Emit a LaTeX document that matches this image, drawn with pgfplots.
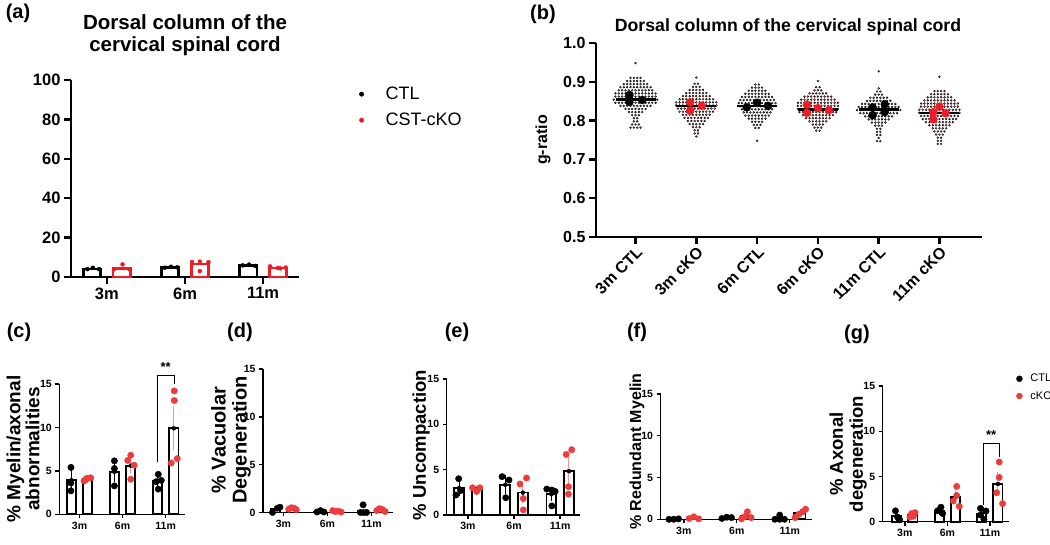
\documentclass[border=0pt]{standalone}
\usepackage{pgfplots}
\pgfplotsset{compat=1.18}
\usepackage{pgfplotstable}
\usepackage{fontspec}
\setmainfont{Liberation Sans}
\newcommand{\fs}[1]{\fontsize{#1}{#1}\selectfont}
\definecolor{cred}{RGB}{238,28,36}
\definecolor{dred}{RGB}{236,60,60}
\definecolor{epink}{RGB}{243,150,150}
\definecolor{sgrey}{RGB}{150,150,150}
\definecolor{spink}{RGB}{245,135,135}

% beeswarm tables: s = horizontal slot in the swarm, v = g-ratio x 1000
\pgfplotstableread[row sep=\\]{
s v\\
0 948\\
-1.5 910\\ -0.5 910\\ 0.5 910\\ 1.5 910\\
-2.5 902\\ -1.5 902\\ -0.5 902\\ 0.5 902\\ 1.5 902\\ 2.5 902\\
-3.5 894\\ -2.5 894\\ -1.5 894\\ -0.5 894\\ 0.5 894\\ 1.5 894\\ 2.5 894\\ 3.5 894\\
-4.5 886\\ -3.5 886\\ -2.5 886\\ -1.5 886\\ -0.5 886\\ 0.5 886\\ 1.5 886\\ 2.5 886\\ 3.5 886\\ 4.5 886\\
-5 878\\ -4 878\\ -3 878\\ -2 878\\ -1 878\\ 0 878\\ 1 878\\ 2 878\\ 3 878\\ 4 878\\ 5 878\\
-6 870\\ -5 870\\ -4 870\\ -3 870\\ -2 870\\ -1 870\\ 0 870\\ 1 870\\ 2 870\\ 3 870\\ 4 870\\ 5 870\\ 6 870\\
-6 862\\ -5 862\\ -4 862\\ -3 862\\ -2 862\\ -1 862\\ 0 862\\ 1 862\\ 2 862\\ 3 862\\ 4 862\\ 5 862\\ 6 862\\
-6.5 854\\ -5.5 854\\ -4.5 854\\ -3.5 854\\ -2.5 854\\ -1.5 854\\ -0.5 854\\ 0.5 854\\ 1.5 854\\ 2.5 854\\ 3.5 854\\ 4.5 854\\ 5.5 854\\ 6.5 854\\
-6 846\\ -5 846\\ -4 846\\ -3 846\\ -2 846\\ -1 846\\ 0 846\\ 1 846\\ 2 846\\ 3 846\\ 4 846\\ 5 846\\ 6 846\\
-4.5 838\\ -3.5 838\\ -2.5 838\\ -1.5 838\\ -0.5 838\\ 0.5 838\\ 1.5 838\\ 2.5 838\\ 3.5 838\\ 4.5 838\\
-3 830\\ -2 830\\ -1 830\\ 0 830\\ 1 830\\ 2 830\\ 3 830\\
-2 822\\ -1 822\\ 0 822\\ 1 822\\ 2 822\\
-1 814\\ 0 814\\ 1 814\\
-0.5 806\\ 0.5 806\\
-0.5 798\\ 0.5 798\\
-1 790\\ 0 790\\ 1 790\\
-1.5 782\\ -0.5 782\\ 0.5 782\\ 1.5 782\\
}\swA

\pgfplotstableread[row sep=\\]{
s v\\
0 911\\
-0.5 895\\ 0.5 895\\
-1 887\\ 0 887\\ 1 887\\
-2 879\\ -1 879\\ 0 879\\ 1 879\\ 2 879\\
-3 871\\ -2 871\\ -1 871\\ 0 871\\ 1 871\\ 2 871\\ 3 871\\
-4 863\\ -3 863\\ -2 863\\ -1 863\\ 0 863\\ 1 863\\ 2 863\\ 3 863\\ 4 863\\
-5 855\\ -4 855\\ -3 855\\ -2 855\\ -1 855\\ 0 855\\ 1 855\\ 2 855\\ 3 855\\ 4 855\\ 5 855\\
-6 847\\ -5 847\\ -4 847\\ -3 847\\ -2 847\\ -1 847\\ 0 847\\ 1 847\\ 2 847\\ 3 847\\ 4 847\\ 5 847\\ 6 847\\
-6 839\\ -5 839\\ -4 839\\ -3 839\\ -2 839\\ -1 839\\ 0 839\\ 1 839\\ 2 839\\ 3 839\\ 4 839\\ 5 839\\ 6 839\\
-5.5 831\\ -4.5 831\\ -3.5 831\\ -2.5 831\\ -1.5 831\\ -0.5 831\\ 0.5 831\\ 1.5 831\\ 2.5 831\\ 3.5 831\\ 4.5 831\\ 5.5 831\\
-5 823\\ -4 823\\ -3 823\\ -2 823\\ -1 823\\ 0 823\\ 1 823\\ 2 823\\ 3 823\\ 4 823\\ 5 823\\
-4 815\\ -3 815\\ -2 815\\ -1 815\\ 0 815\\ 1 815\\ 2 815\\ 3 815\\ 4 815\\
-3.5 807\\ -2.5 807\\ -1.5 807\\ -0.5 807\\ 0.5 807\\ 1.5 807\\ 2.5 807\\ 3.5 807\\
-2.5 799\\ -1.5 799\\ -0.5 799\\ 0.5 799\\ 1.5 799\\ 2.5 799\\
-2 791\\ -1 791\\ 0 791\\ 1 791\\ 2 791\\
-1 783\\ 0 783\\ 1 783\\
-0.5 775\\ 0.5 775\\
-0.5 767\\ 0.5 767\\
0 759\\
}\swB

\pgfplotstableread[row sep=\\]{
s v\\
-0.5 893\\ 0.5 893\\
-1.5 885\\ -0.5 885\\ 0.5 885\\ 1.5 885\\
-2.5 877\\ -1.5 877\\ -0.5 877\\ 0.5 877\\ 1.5 877\\ 2.5 877\\
-3.5 869\\ -2.5 869\\ -1.5 869\\ -0.5 869\\ 0.5 869\\ 1.5 869\\ 2.5 869\\ 3.5 869\\
-4.5 861\\ -3.5 861\\ -2.5 861\\ -1.5 861\\ -0.5 861\\ 0.5 861\\ 1.5 861\\ 2.5 861\\ 3.5 861\\ 4.5 861\\
-5 853\\ -4 853\\ -3 853\\ -2 853\\ -1 853\\ 0 853\\ 1 853\\ 2 853\\ 3 853\\ 4 853\\ 5 853\\
-5.5 845\\ -4.5 845\\ -3.5 845\\ -2.5 845\\ -1.5 845\\ -0.5 845\\ 0.5 845\\ 1.5 845\\ 2.5 845\\ 3.5 845\\ 4.5 845\\ 5.5 845\\
-5 837\\ -4 837\\ -3 837\\ -2 837\\ -1 837\\ 0 837\\ 1 837\\ 2 837\\ 3 837\\ 4 837\\ 5 837\\
-4.5 829\\ -3.5 829\\ -2.5 829\\ -1.5 829\\ -0.5 829\\ 0.5 829\\ 1.5 829\\ 2.5 829\\ 3.5 829\\ 4.5 829\\
-4 821\\ -3 821\\ -2 821\\ -1 821\\ 0 821\\ 1 821\\ 2 821\\ 3 821\\ 4 821\\
-3.5 813\\ -2.5 813\\ -1.5 813\\ -0.5 813\\ 0.5 813\\ 1.5 813\\ 2.5 813\\ 3.5 813\\
-2.5 805\\ -1.5 805\\ -0.5 805\\ 0.5 805\\ 1.5 805\\ 2.5 805\\
-1.5 797\\ -0.5 797\\ 0.5 797\\ 1.5 797\\
-1 789\\ 0 789\\ 1 789\\
-0.5 781\\ 0.5 781\\
0 748\\
}\swC

\pgfplotstableread[row sep=\\]{
s v\\
0 902\\
-0.5 886\\ 0.5 886\\
-1 878\\ 0 878\\ 1 878\\
-2.5 870\\ -1.5 870\\ -0.5 870\\ 0.5 870\\ 1.5 870\\ 2.5 870\\
-4 862\\ -3 862\\ -2 862\\ -1 862\\ 0 862\\ 1 862\\ 2 862\\ 3 862\\ 4 862\\
-5 854\\ -4 854\\ -3 854\\ -2 854\\ -1 854\\ 0 854\\ 1 854\\ 2 854\\ 3 854\\ 4 854\\ 5 854\\
-6 846\\ -5 846\\ -4 846\\ -3 846\\ -2 846\\ -1 846\\ 0 846\\ 1 846\\ 2 846\\ 3 846\\ 4 846\\ 5 846\\ 6 846\\
-6 838\\ -5 838\\ -4 838\\ -3 838\\ -2 838\\ -1 838\\ 0 838\\ 1 838\\ 2 838\\ 3 838\\ 4 838\\ 5 838\\ 6 838\\
-6 830\\ -5 830\\ -4 830\\ -3 830\\ -2 830\\ -1 830\\ 0 830\\ 1 830\\ 2 830\\ 3 830\\ 4 830\\ 5 830\\ 6 830\\
-5.5 822\\ -4.5 822\\ -3.5 822\\ -2.5 822\\ -1.5 822\\ -0.5 822\\ 0.5 822\\ 1.5 822\\ 2.5 822\\ 3.5 822\\ 4.5 822\\ 5.5 822\\
-4.5 814\\ -3.5 814\\ -2.5 814\\ -1.5 814\\ -0.5 814\\ 0.5 814\\ 1.5 814\\ 2.5 814\\ 3.5 814\\ 4.5 814\\
-3.5 806\\ -2.5 806\\ -1.5 806\\ -0.5 806\\ 0.5 806\\ 1.5 806\\ 2.5 806\\ 3.5 806\\
-2.5 798\\ -1.5 798\\ -0.5 798\\ 0.5 798\\ 1.5 798\\ 2.5 798\\
-1.5 790\\ -0.5 790\\ 0.5 790\\ 1.5 790\\
-1 782\\ 0 782\\ 1 782\\
-0.5 774\\ 0.5 774\\
}\swD

\pgfplotstableread[row sep=\\]{
s v\\
0 927\\
0 883\\
-0.5 875\\ 0.5 875\\
-1 867\\ 0 867\\ 1 867\\
-2.5 859\\ -1.5 859\\ -0.5 859\\ 0.5 859\\ 1.5 859\\ 2.5 859\\
-3.5 851\\ -2.5 851\\ -1.5 851\\ -0.5 851\\ 0.5 851\\ 1.5 851\\ 2.5 851\\ 3.5 851\\
-5 843\\ -4 843\\ -3 843\\ -2 843\\ -1 843\\ 0 843\\ 1 843\\ 2 843\\ 3 843\\ 4 843\\ 5 843\\
-6 835\\ -5 835\\ -4 835\\ -3 835\\ -2 835\\ -1 835\\ 0 835\\ 1 835\\ 2 835\\ 3 835\\ 4 835\\ 5 835\\ 6 835\\
-6.5 827\\ -5.5 827\\ -4.5 827\\ -3.5 827\\ -2.5 827\\ -1.5 827\\ -0.5 827\\ 0.5 827\\ 1.5 827\\ 2.5 827\\ 3.5 827\\ 4.5 827\\ 5.5 827\\ 6.5 827\\
-5.5 819\\ -4.5 819\\ -3.5 819\\ -2.5 819\\ -1.5 819\\ -0.5 819\\ 0.5 819\\ 1.5 819\\ 2.5 819\\ 3.5 819\\ 4.5 819\\ 5.5 819\\
-4 811\\ -3 811\\ -2 811\\ -1 811\\ 0 811\\ 1 811\\ 2 811\\ 3 811\\ 4 811\\
-3 803\\ -2 803\\ -1 803\\ 0 803\\ 1 803\\ 2 803\\ 3 803\\
-2 795\\ -1 795\\ 0 795\\ 1 795\\ 2 795\\
-1 787\\ 0 787\\ 1 787\\
-0.5 779\\ 0.5 779\\
-0.5 771\\ 0.5 771\\
-0.5 763\\ 0.5 763\\
0 755\\
-0.5 747\\ 0.5 747\\
}\swE

\pgfplotstableread[row sep=\\]{
s v\\
0 913\\
-1.5 876\\ -0.5 876\\ 0.5 876\\ 1.5 876\\
-2.5 868\\ -1.5 868\\ -0.5 868\\ 0.5 868\\ 1.5 868\\ 2.5 868\\
-3.5 860\\ -2.5 860\\ -1.5 860\\ -0.5 860\\ 0.5 860\\ 1.5 860\\ 2.5 860\\ 3.5 860\\
-4.5 852\\ -3.5 852\\ -2.5 852\\ -1.5 852\\ -0.5 852\\ 0.5 852\\ 1.5 852\\ 2.5 852\\ 3.5 852\\ 4.5 852\\
-5.5 844\\ -4.5 844\\ -3.5 844\\ -2.5 844\\ -1.5 844\\ -0.5 844\\ 0.5 844\\ 1.5 844\\ 2.5 844\\ 3.5 844\\ 4.5 844\\ 5.5 844\\
-5.5 836\\ -4.5 836\\ -3.5 836\\ -2.5 836\\ -1.5 836\\ -0.5 836\\ 0.5 836\\ 1.5 836\\ 2.5 836\\ 3.5 836\\ 4.5 836\\ 5.5 836\\
-6 828\\ -5 828\\ -4 828\\ -3 828\\ -2 828\\ -1 828\\ 0 828\\ 1 828\\ 2 828\\ 3 828\\ 4 828\\ 5 828\\ 6 828\\
-6 820\\ -5 820\\ -4 820\\ -3 820\\ -2 820\\ -1 820\\ 0 820\\ 1 820\\ 2 820\\ 3 820\\ 4 820\\ 5 820\\ 6 820\\
-5.5 812\\ -4.5 812\\ -3.5 812\\ -2.5 812\\ -1.5 812\\ -0.5 812\\ 0.5 812\\ 1.5 812\\ 2.5 812\\ 3.5 812\\ 4.5 812\\ 5.5 812\\
-5 804\\ -4 804\\ -3 804\\ -2 804\\ -1 804\\ 0 804\\ 1 804\\ 2 804\\ 3 804\\ 4 804\\ 5 804\\
-4 796\\ -3 796\\ -2 796\\ -1 796\\ 0 796\\ 1 796\\ 2 796\\ 3 796\\ 4 796\\
-3 788\\ -2 788\\ -1 788\\ 0 788\\ 1 788\\ 2 788\\ 3 788\\
-2 780\\ -1 780\\ 0 780\\ 1 780\\ 2 780\\
-1.5 772\\ -0.5 772\\ 0.5 772\\ 1.5 772\\
-1 764\\ 0 764\\ 1 764\\
-0.5 756\\ 0.5 756\\
-0.5 748\\ 0.5 748\\
-0.5 740\\ 0.5 740\\
}\swF

\pgfplotsset{
  bot/.style={scale only axis, axis lines=left, axis line style={-,line width=1.4pt},
    tick style={line width=1.4pt,black}, tick align=outside, major tick length=4pt,
    ymin=0, ymax=15, ytick={0,5,10,15}, xtick={0,1,2}, xticklabels={3m,6m,11m},
    tick label style={font=\fs{10.5}\bfseries}, /pgf/number format/assume math mode=true,
    clip=false, enlargelimits=false},
  barb/.style={ybar, bar width=0.215, draw=black, fill=white, line width=1.8pt},
  errk/.style={only marks, mark=none, error bars/.cd, y dir=both, y explicit, error bar style={line width=1pt,draw=black}, error mark options={mark size=3pt,line width=1pt,draw=black}},
  errr/.style={only marks, mark=none, error bars/.cd, y dir=both, y explicit, error bar style={line width=1pt,draw=epink}, error mark options={mark size=3pt,line width=1pt,draw=epink}},
  dotk/.style={only marks, mark=*, mark size=3.2pt, mark options={draw=black,fill=black}},
  dotr/.style={only marks, mark=*, mark size=3.2pt, mark options={draw=dred,fill=dred}},
}

\begin{document}
\begin{tikzpicture}[x=1pt,y=1pt]
\path[use as bounding box, fill=white] (0,0) rectangle (1050,545);

% ---------------- (a)
\begin{axis}[at={(71pt,268pt)}, anchor=south west, width=228pt, height=197pt, scale only axis,
  axis lines=left, axis line style={-,line width=2.5pt}, tick style={line width=2.5pt,black},
  tick align=outside, major tick length=7pt, xmin=-0.46, xmax=2.46, ymin=0, ymax=100,
  ytick={0,20,40,60,80,100}, xtick={0,1,2}, xticklabels={3m,6m,11m},
  tick label style={font=\fs{16.5}\bfseries}, /pgf/number format/assume math mode=true,
  clip=false, enlargelimits=false,
  legend style={at={(1.25,0.975)}, anchor=north west, draw=none, fill=none, font=\fs{18},
    row sep=12pt, column sep=0pt, nodes={inner sep=0pt}},
  legend cell align=left,
  legend image code/.code={\fill[#1] (0pt,0pt) circle (2.2pt); \path[draw=none,fill=none] (-2.2pt,0pt) -- (24pt,0pt);}]
\addlegendimage{black}\addlegendentry{CTL}
\addlegendimage{cred}\addlegendentry{CST-cKO}
\addplot[ybar, bar width=0.22, bar shift=-0.19, draw=black, fill=white, line width=2.6pt] coordinates {(0,4.0)(1,4.7)(2,5.8)};
\addplot[ybar, bar width=0.22, bar shift=0.19, draw=cred, fill=white, line width=2.6pt] coordinates {(0,4.4)(1,6.6)(2,4.6)};
\addplot[only marks, mark=*, mark size=2pt, black] coordinates {(-0.25,4.0)(-0.18,4.7)(-0.10,4.0)(0.74,4.7)(0.82,5.2)(0.9,4.9)(1.74,5.9)(1.82,6.3)(1.9,5.6)};
\addplot[only marks, mark=*, mark size=2pt, cred] coordinates {(0.09,3.9)(0.2,6.4)(0.29,3.9)(1.09,7.6)(1.19,7.8)(1.3,7.5)(1.19,3.0)(2.09,5.4)(2.19,4.6)(2.29,4.8)(2.22,4.4)};
\end{axis}
\node[font=\fs{20}\bfseries] at (18,532) {(a)};
\node[font=\fontsize{20.5}{22}\selectfont\bfseries, align=center] at (185,510) {Dorsal column of the\\cervical spinal cord};

% ---------------- (b)
\begin{axis}[at={(596pt,308pt)}, anchor=south west, width=386pt, height=194pt, scale only axis,
  axis lines=left, axis line style={-,line width=2.5pt}, tick style={line width=2.5pt,black},
  tick align=outside, major tick length=7pt, xmin=-0.65, xmax=5.7, ymin=0.5, ymax=1.0,
  ytick={0.5,0.6,0.7,0.8,0.9,1.0}, xtick={0,1,2,3,4,5},
  xticklabels={3m CTL,3m cKO,6m CTL,6m cKO,11m CTL,11m cKO},
  yticklabel style={/pgf/number format/.cd, fixed, fixed zerofill, precision=1},
  tick label style={font=\fs{16}\bfseries}, /pgf/number format/assume math mode=true,
  xticklabel style={rotate=45, anchor=north east, inner sep=1pt},
  clip=false, enlargelimits=false]
\addplot[only marks, mark=*, mark size=0.95pt, mark options={draw=none,fill=sgrey}] table[x expr=\thisrow{s}*0.055, y expr=\thisrow{v}/1000] {\swA};
\addplot[only marks, mark=*, mark size=0.95pt, mark options={draw=none,fill=spink}] table[x expr=\thisrow{s}*0.055+1, y expr=\thisrow{v}/1000] {\swB};
\addplot[only marks, mark=*, mark size=0.95pt, mark options={draw=none,fill=sgrey}] table[x expr=\thisrow{s}*0.055+2, y expr=\thisrow{v}/1000] {\swC};
\addplot[only marks, mark=*, mark size=0.95pt, mark options={draw=none,fill=spink}] table[x expr=\thisrow{s}*0.055+3, y expr=\thisrow{v}/1000] {\swD};
\addplot[only marks, mark=*, mark size=0.95pt, mark options={draw=none,fill=sgrey}] table[x expr=\thisrow{s}*0.055+4, y expr=\thisrow{v}/1000] {\swE};
\addplot[only marks, mark=*, mark size=0.95pt, mark options={draw=none,fill=spink}] table[x expr=\thisrow{s}*0.055+5, y expr=\thisrow{v}/1000] {\swF};
\addplot[only marks, mark=-, mark size=20pt, mark options={line width=2.5pt, black}] coordinates {(0,0.855)(1,0.837)(2,0.838)(3,0.829)(4,0.828)(5,0.819)};
\addplot[only marks, mark=*, mark size=4pt, black] coordinates {(-0.1,0.866)(-0.1,0.848)(0.11,0.853)(1.83,0.834)(2.0,0.846)(2.18,0.838)(3.9,0.834)(3.9,0.814)(4.1,0.842)(4.1,0.822)};
\addplot[only marks, mark=*, mark size=4pt, cred] coordinates {(0.9,0.847)(0.9,0.826)(1.09,0.838)(2.82,0.841)(2.82,0.820)(3.0,0.832)(3.18,0.827)(4.9,0.822)(4.9,0.803)(5.0,0.836)(5.1,0.819)};
\end{axis}
\node[font=\fs{20}\bfseries] at (543,531) {(b)};
\node[font=\fs{17.7}\bfseries] at (788,518) {Dorsal column of the cervical spinal cord};
\node[font=\fs{16}\bfseries, rotate=90] at (543,405) {g-ratio};

% ---------------- (c)
\begin{axis}[bot, at={(59.3pt,30.7pt)}, anchor=south west, width=125.7pt, height=130.3pt, xmin=-0.47, xmax=2.45]
\addplot[barb, bar shift=-0.19] coordinates {(0,3.92)(1,4.88)(2,3.8)};
\addplot[barb, bar shift=0.19] coordinates {(0,4.1)(1,5.6)(2,9.9)};
\addplot[errk] coordinates {(-0.19,3.92) +- (0,0.78) (0.81,4.88) +- (0,0.85) (1.81,3.8) +- (0,0.35)};
\addplot[errr] coordinates {(0.19,4.1) +- (0,0.1) (1.19,5.6) +- (0,0.6) (2.19,9.9) +- (0,2.2)};
\addplot[dotk] coordinates {(-0.2,5.4)(-0.2,3.6)(-0.2,2.7)(0.81,6.15)(0.81,5.27)(0.81,3.27)(1.83,4.6)(1.78,3.75)(1.9,3.9)(1.83,2.9)};
\addplot[dotr] coordinates {(0.105,3.85)(0.14,4.0)(0.18,4.15)(0.26,4.2)(1.19,6.8)(1.12,6.2)(1.27,5.65)(1.19,4.04)(2.2,14.2)(2.2,13.1)(2.13,5.9)(2.27,6.4)};
\draw[line width=1.1pt] (axis cs:1.81,6) |- (axis cs:2.2,16) -- (axis cs:2.2,15);
\node[font=\fs{13}\bfseries] at (axis cs:2,17.0) {**};
\end{axis}
\node[font=\fs{20}\bfseries] at (19,213) {(c)};
\node[font=\fontsize{19}{19}\selectfont\bfseries, rotate=90, align=center] at (23,96) {\% Myelin/axonal\\abnormalities};

% ---------------- (d)
\begin{axis}[bot, at={(263pt,32.5pt)}, anchor=south west, width=130pt, height=143.5pt, xmin=-0.466, xmax=2.49]
\addplot[barb, bar shift=-0.19] coordinates {(0,0.35)(1,0.1)(2,0.2)};
\addplot[barb, bar shift=0.19] coordinates {(0,0.4)(1,0.12)(2,0.25)};
\addplot[dotk] coordinates {(-0.25,0)(-0.14,0.45)(-0.08,0.55)(0.76,0.05)(0.84,0.2)(0.92,0.05)(1.75,0)(1.81,0.8)(1.82,0)(1.89,0)};
\addplot[dotr] coordinates {(0.12,0.35)(0.18,0.5)(0.24,0.45)(0.29,0.3)(1.12,0.2)(1.18,0.1)(1.24,0.15)(1.31,0.05)(2.12,0.2)(2.18,0.4)(2.25,0.3)(2.31,0.1)};
\end{axis}
\node[font=\fs{20}\bfseries] at (240,213) {(d)};
\node[font=\fontsize{20}{21}\selectfont\bfseries, rotate=90, align=center] at (231,105) {\% Vacuolar\\Degeneration};

% ---------------- (e)
\begin{axis}[bot, at={(446.7pt,30pt)}, anchor=south west, width=133.3pt, height=136pt, xmin=-0.46, xmax=2.43]
\addplot[barb, bar shift=-0.19] coordinates {(0,2.97)(1,3.33)(2,2.3)};
\addplot[barb, bar shift=0.19] coordinates {(0,2.87)(1,2.47)(2,4.83)};
\addplot[errk] coordinates {(-0.19,2.97) +- (0,0.55) (0.81,3.33) +- (0,0.7) (1.81,2.3) +- (0,0.4)};
\addplot[errr] coordinates {(0.19,2.87) +- (0,0.13) (1.19,2.47) +- (0,0.8) (2.19,4.83) +- (0,1.25)};
\addplot[dotk] coordinates {(-0.2,4.0)(-0.26,2.2)(-0.16,2.7)(0.74,4.23)(0.89,3.86)(0.82,1.9)(1.71,2.86)(1.82,2.75)(1.89,2.6)(1.82,1.0)};
\addplot[dotr] coordinates {(0.1,3.0)(0.19,2.6)(0.26,3.0)(1.13,3.42)(1.27,4.08)(1.2,1.82)(1.2,0.56)(2.13,6.68)(2.25,7.2)(2.18,3.12)(2.18,2.3)};
\end{axis}
\node[font=\fs{20}\bfseries] at (457,213) {(e)};
\node[font=\fs{18.5}\bfseries, rotate=90] at (421,100) {\% Uncompaction};

% ---------------- (f)
\begin{axis}[bot, at={(660.5pt,25.7pt)}, anchor=south west, width=151.5pt, height=125.3pt, xmin=-0.44, xmax=2.42]
\addplot[barb, bar shift=-0.19] coordinates {(0,0.03)(1,0.18)(2,0.12)};
\addplot[barb, bar shift=0.19] coordinates {(0,0.15)(1,0.36)(2,0.72)};
\addplot[dotk] coordinates {(-0.28,0)(-0.19,0)(-0.1,0.05)(0.72,0.1)(0.81,0.25)(0.9,0.2)(1.72,0)(1.81,0.5)(1.81,0)(1.9,0)};
\addplot[dotr] coordinates {(0.1,0.1)(0.19,0.3)(0.28,0.05)(1.09,0.05)(1.15,0.3)(1.2,0.9)(1.27,0.2)(2.1,0.2)(2.17,0.6)(2.24,0.9)(2.3,1.2)};
\end{axis}
\node[font=\fs{20}\bfseries] at (637,213) {(f)};
\node[font=\fs{16}\bfseries, rotate=90] at (637,93.5) {\% Redundant Myelin};

% ---------------- (g)
\begin{axis}[bot, at={(882.7pt,23.3pt)}, anchor=south west, width=126.3pt, height=135.7pt, xmin=-0.52, xmax=2.45,
  legend style={at={(1.032,1.103)}, anchor=north west, draw=none, fill=none, font=\fs{11},
    row sep=8pt, column sep=0pt, nodes={inner sep=0pt}},
  legend cell align=left,
  legend image code/.code={\fill[#1] (0pt,0pt) circle (3pt); \path[draw=none,fill=none] (-3pt,0pt) -- (11pt,0pt);}]
\addlegendimage{black}\addlegendentry{CTL}
\addlegendimage{dred}\addlegendentry{cKO}
\addplot[barb, bar shift=-0.19] coordinates {(0,0.63)(1,1.23)(2,0.91)};
\addplot[barb, bar shift=0.19] coordinates {(0,0.75)(1,2.7)(2,4.17)};
\addplot[errk] coordinates {(-0.19,0.63) +- (0,0.3) (0.81,1.23) +- (0,0.2) (1.81,0.91) +- (0,0.26)};
\addplot[errr] coordinates {(0.19,0.75) +- (0,0.12) (1.19,2.7) +- (0,0.45) (2.19,4.17) +- (0,1.0)};
\addplot[dotk] coordinates {(-0.22,1.2)(-0.12,0.2)(-0.17,0.5)(0.77,1.2)(0.85,1.6)(0.89,0.9)(1.78,1.47)(1.91,1.18)(1.86,0.26)(1.78,0.74)};
\addplot[dotr] coordinates {(0.16,0.9)(0.24,1.0)(0.2,0.6)(0.12,0.5)(1.22,3.9)(1.22,2.9)(1.14,2.3)(1.28,1.7)(2.22,6.6)(2.22,4.9)(2.16,3.2)(2.3,2.0)};
\draw[line width=1.1pt] (axis cs:1.84,1.85) |- (axis cs:2.22,8.6) -- (axis cs:2.22,7.2);
\node[font=\fs{13}\bfseries] at (axis cs:2.03,9.6) {**};
\end{axis}
\node[font=\fs{20}\bfseries] at (857,211) {(g)};
\node[font=\fontsize{18.5}{20}\selectfont\bfseries, rotate=90, align=center] at (848,91) {\% Axonal\\degeneration};
\end{tikzpicture}
\end{document}
